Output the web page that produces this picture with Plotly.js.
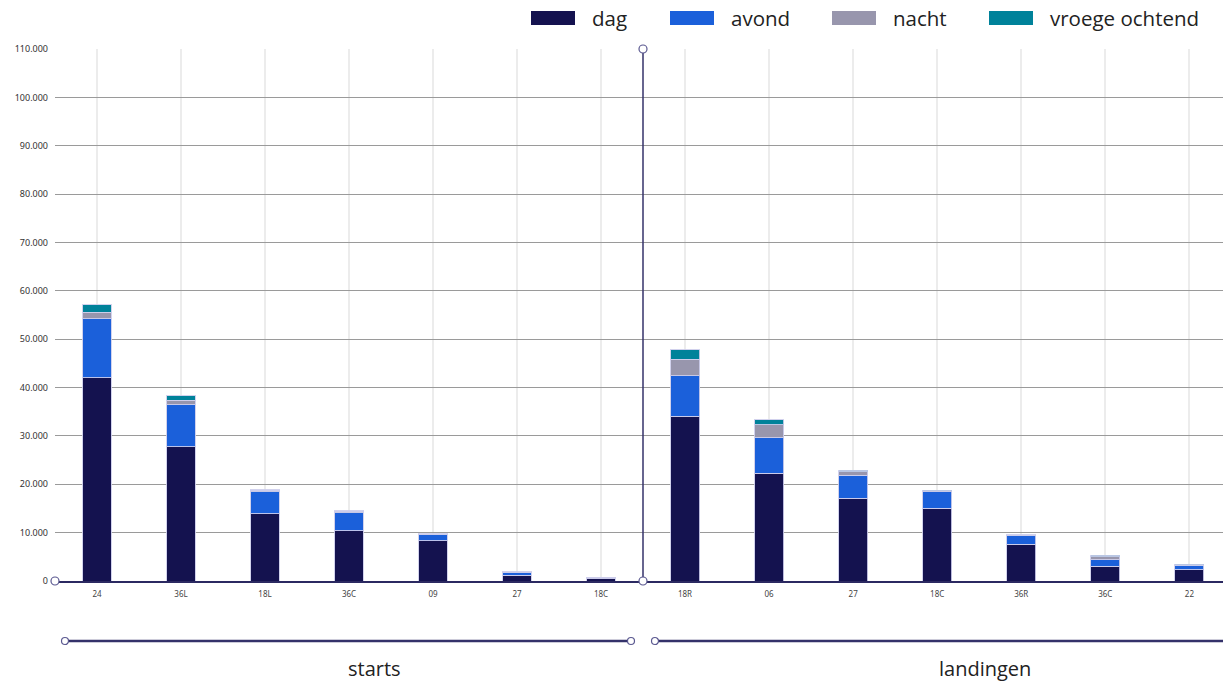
<!DOCTYPE html>
<html><head><meta charset="utf-8">
<script src="https://cdn.plot.ly/plotly-3.0.1.min.js"></script>
<style>html,body{margin:0;padding:0;background:#fff}#chart{width:1223px;height:684px}</style>
</head><body><div id="chart"></div>
<script>
// ---- data ----
const startCats = ['24','36L','18L','36C','09','27','18C'];
const startDag    = [42000,27800,13900,10400,8300,1200,550];
const startAvond  = [12200,8600,4600,3700,1300,600,200];
const startNacht  = [1400,1000,300,300,100,50,30];
const startVroeg  = [1500,900,100,100,50,20,10];

const landCats = ['18R','06','27','18C','36R','36C','22'];
const landDag    = [34100,22300,17100,15000,7600,3100,2300];
const landAvond  = [8300,7300,4800,3500,1800,1300,1000];
const landNacht  = [3400,2700,700,200,100,600,100];
const landVroeg  = [2000,1000,300,100,50,300,30];

const seriesNames = ['dag','avond','nacht','vroege ochtend'];
const groupNames = ['starts','landingen'];
const colors = ['#14124f','#1b60da','#9896ad','#00829a'];

// ---- geometry helpers (pixel -> paper) ----
const W = 1223, H = 684, L = 55, T = 49, B = 103, R = 0;
const PW = W - L - R, PH = H - T - B;
const px = x => (x - L) / PW;
const py = y => (H - B - y) / PH;
const split = px(643);

const startVals = [startDag, startAvond, startNacht, startVroeg];
const landVals = [landDag, landAvond, landNacht, landVroeg];
const traces = [];
seriesNames.forEach((n, i) => {
  traces.push({type:'bar', name:n, x:startCats, y:startVals[i], xaxis:'x', yaxis:'y',
    marker:{color:colors[i], line:{color:'rgba(205,205,235,0.9)', width:1}}, showlegend:false, hoverinfo:'y+name'});
  traces.push({type:'bar', name:n, x:landCats, y:landVals[i], xaxis:'x2', yaxis:'y',
    marker:{color:colors[i], line:{color:'rgba(205,205,235,0.9)', width:1}}, showlegend:false, hoverinfo:'y+name'});
});

const navy = '#34326a';
const shapes = [];
const annotations = [];
// divider line
shapes.push({type:'line', xref:'paper', yref:'paper', x0:split, x1:split, y0:0, y1:1, line:{color:navy, width:1.5}});
// circles on axis
function circ(xp, yp, r){
  return {type:'circle', xref:'paper', yref:'paper', xsizemode:'pixel', ysizemode:'pixel',
    xanchor:xp, yanchor:yp, x0:-r, x1:r, y0:-r, y1:r, fillcolor:'#fff', line:{color:'#5a5890', width:1.2}};
}
shapes.push(circ(px(55), 0, 4));
shapes.push(circ(split, 0, 4));
shapes.push(circ(split, 1, 4));
// group lines
const gy = py(641);
[[65,631],[655,1232]].forEach(([a,b]) => {
  shapes.push({type:'line', xref:'paper', yref:'paper', x0:px(a), x1:px(b), y0:gy, y1:gy, line:{color:navy, width:2.5}});
  shapes.push(circ(px(a), gy, 3.5));
  shapes.push(circ(px(b), gy, 3.5));
});
annotations.push({xref:'paper', yref:'paper', x:px(374), y:py(669), text:groupNames[0], showarrow:false,
  font:{family:'Open Sans, sans-serif', size:20, color:'#222'}, xanchor:'center', yanchor:'middle'});
annotations.push({xref:'paper', yref:'paper', x:px(985), y:py(669), text:groupNames[1], showarrow:false,
  font:{family:'Open Sans, sans-serif', size:20, color:'#222'}, xanchor:'center', yanchor:'middle'});
// custom legend
const legX = [531, 670, 832, 989];
seriesNames.forEach((n, i) => {
  shapes.push({type:'rect', xref:'paper', yref:'paper', x0:px(legX[i]), x1:px(legX[i]+44), y0:py(11), y1:py(25),
    fillcolor:colors[i], line:{width:0}});
  annotations.push({xref:'paper', yref:'paper', x:px(legX[i]+59), y:py(18), text:n, showarrow:false,
    xanchor:'left', yanchor:'middle', font:{family:'Open Sans, sans-serif', size:20.5, color:'#222'}});
});

const xcommon = {type:'category', showgrid:true, gridcolor:'#ececec', gridwidth:2, ticks:'',
  showline:true, linecolor:'#2b2961', linewidth:2, zeroline:false, fixedrange:true, ticklabelstandoff:4,
  tickfont:{family:'Noto Sans, sans-serif', size:8, color:'#444'}};

const layout = {
  width:W, height:H, margin:{l:L, r:R, t:T, b:B}, paper_bgcolor:'#fff', plot_bgcolor:'#fff',
  barmode:'stack', bargap:0.655, separators:',.', showlegend:false,
  xaxis: Object.assign({}, xcommon, {domain:[0, split], range:[-0.5, 6.5], anchor:'y'}),
  xaxis2: Object.assign({}, xcommon, {domain:[split, 1], range:[-0.5, 6.4], anchor:'y'}),
  yaxis: {range:[0,110000], dtick:10000, tickformat:',d', showgrid:true, gridcolor:'#9a9a9a', gridwidth:1,
    zeroline:false, showline:false, ticks:'', ticklabelstandoff:6,
    tickfont:{family:'Noto Sans, sans-serif', size:9, color:'#333'}},
  shapes, annotations
};
Plotly.newPlot('chart', traces, layout, {displayModeBar:false, staticPlot:true});
</script></body></html>
